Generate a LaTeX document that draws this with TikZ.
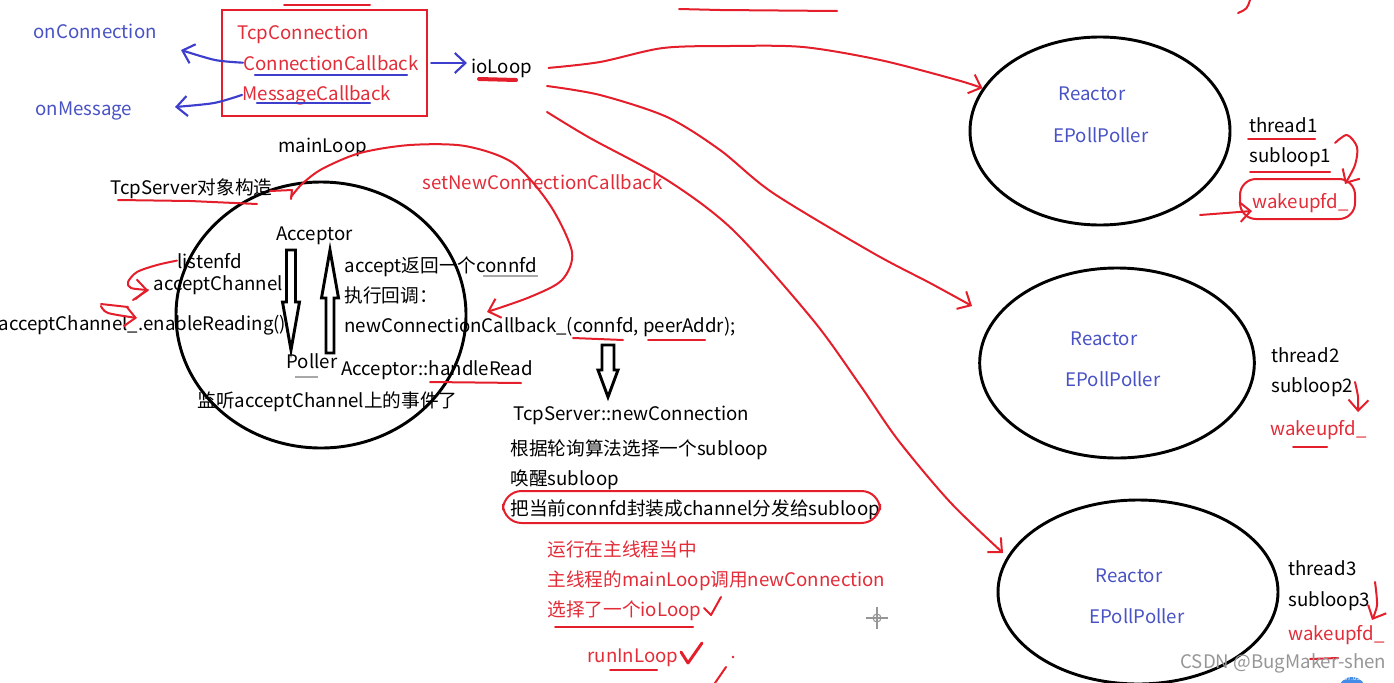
\documentclass[tikz,border=0pt]{standalone}
\usepackage{fontspec}
\setmainfont{Noto Sans CJK SC}
\usetikzlibrary{arrows.meta,shapes.geometric}

\definecolor{penred}{RGB}{228,30,42}
\definecolor{txtred}{RGB}{226,44,56}
\definecolor{txtblue}{RGB}{72,82,196}
\definecolor{penblue}{RGB}{62,62,204}
\definecolor{ulgray}{RGB}{168,168,168}
\definecolor{markgray}{RGB}{150,150,150}
\definecolor{clockblue}{RGB}{66,140,232}

\tikzset{every picture/.style={line width=0.75pt}}
\tikzset{
  txt/.style={anchor=base west, inner sep=0pt, font=\fontsize{14}{17}\selectfont},
  redtxt/.style={txt, text=txtred},
  bluetxt/.style={txt, text=txtblue},
  redpen/.style={draw=penred, line width=1.5pt, line cap=round, line join=round},
  bluepen/.style={draw=penblue, line width=1.6pt, line cap=round, line join=round},
  barb/.style={-{Straight Barb[length=8pt,width=15pt]}},
  reactor/.style={draw, ellipse, line width=2.2pt, inner sep=0pt},
  blockarrow/.style={draw, line width=2.2pt, line join=miter, fill=white},
}

\begin{document}
\begin{tikzpicture}[x=0.75pt,y=0.75pt,yscale=-1,xscale=1]
\useasboundingbox (0,0) rectangle (1394,682);

%Shape: TcpConnection box
\node [draw=penred, line width=2.2pt, minimum width=153.75pt, minimum height=79.5pt, inner sep=0pt] (tcpbox) at (324.5,63) {};

% Text Node
\draw (33,38) node [bluetxt] (onconn) {onConnection};
% Text Node
\draw (35,115) node [bluetxt] (onmsg) {onMessage};
% Text Node
\draw (237,39) node [redtxt] (tcpconn) {TcpConnection};
% Text Node
\draw (243,70) node [redtxt] (conncb) {ConnectionCallback};
% Text Node
\draw (242,100) node [redtxt] (msgcb) {MessageCallback};
% Text Node
\draw (471,73) node [txt] (ioloop) {ioLoop};

%Blue pen strokes
\draw [bluepen] (255,75) -- (407,75) ;
\draw [bluepen] (257,103) -- (370,103) ;
\coordinate (onconntip) at (181,50);
\coordinate (onmsgtip) at (175,107);
\draw [bluepen,barb] (conncb.west) plot [smooth] coordinates {(conncb.west) (215,60) (onconntip)} ;
\draw [bluepen,barb] (msgcb.west) plot [smooth] coordinates {(msgcb.west) (214,103) (onmsgtip)} ;
\draw [bluepen,barb,shorten >=3pt] ([xshift=2pt]tcpbox.east) -- (tcpbox.east -| ioloop.west) ;

%Red pen strokes on top
\draw [redpen] (284,5) -- (370,5) ;
\draw [redpen] (679,9) -- (720,10) -- (837,11) ;
\draw [redpen] (1238,13) .. controls (1247,9) .. (1250,0) ;
\draw [redpen, line width=3pt] (479,79) -- (516,80) ;

%Shape: Reactor ellipses
\node [reactor, minimum width=195pt, minimum height=141pt] (r1) at (1100,131) {};
\node [reactor, minimum width=206pt, minimum height=142.5pt] (r2) at (1117,363) {};
\node [reactor, minimum width=210pt, minimum height=138pt] (r3) at (1138,592) {};

%Red arrows from ioLoop to the reactors
\coordinate (r2tip) at (972,306);
\coordinate (r3tip) at (1003,553);
\draw [redpen,barb] plot [smooth] coordinates {([xshift=12pt]ioloop.east) (600,62) (663,48) (730,46) (803,47) (880,60) (957,80) (r1.160)} ;
\draw [redpen,barb] plot [smooth] coordinates {(547,86) (600,95) (667,117) (720,150) (773,193) (873,253) (930,283) (r2tip)} ;
\draw [redpen,barb] plot [smooth] coordinates {(547,112) (590,138) (667,180) (733,230) (813,320) (860,385) (898,440) (950,502) (r3tip)} ;

% Text Node
\draw (1058,100) node [bluetxt] (reac1) {Reactor};
\draw (1053,142) node [bluetxt] (poll1) {EPollPoller};
\draw (1249,132) node [txt] (thr1) {thread1};
\draw (1249,162) node [txt] (sub1) {subloop1};
\draw (1252,208) node [redtxt] (wake1) {wakeupfd\_};
% Text Node
\draw (1070,345) node [bluetxt] (reac2) {Reactor};
\draw (1065,386) node [bluetxt] (poll2) {EPollPoller};
\draw (1271,362) node [txt] (thr2) {thread2};
\draw (1271,392) node [txt] (sub2) {subloop2};
\draw (1270,435) node [redtxt] (wake2) {wakeupfd\_};
% Text Node
\draw (1095,582) node [bluetxt] (reac3) {Reactor};
\draw (1089,623) node [bluetxt] (poll3) {EPollPoller};
\draw (1288,575) node [txt] (thr3) {thread3};
\draw (1288,606) node [txt] (sub3) {subloop3};
\draw (1288,640) node [redtxt] (wake3) {wakeupfd\_};

%Red marks at the subloops
\draw [redpen] (1248,139) -- (1315,139) ;
\draw [redpen] (1250,172) -- (1330,172) ;
\draw [redpen, rounded corners=12pt] (1240,179) rectangle (1355,219) ;
\draw [redpen,barb] plot [smooth] coordinates {(1335,143) (1347,135) (1357,147) (1355,165) (1345,184)} ;
\draw [redpen,barb] (1200,215) -- (wake1.west |- 1200,211) ;
\draw [redpen,barb] plot [smooth] coordinates {(1355,382) (1358,397) (1358,412)} ;
\draw [redpen] (1293,447) -- (1327,447) ;
\draw [redpen,barb] plot [smooth] coordinates {(1375,582) (1377,605) (1372,620)} ;
\draw [redpen] (1310,659) -- (1338,658) ;

%Shape: Acceptor circle
\node [reactor, minimum width=217.5pt, minimum height=199.5pt] (acc) at (321,315) {};

% Text Node
\draw (278,152) node [txt] (mainloop) {mainLoop};
\draw (110,194) node [txt] (srv) {TcpServer对象构造};
\draw (422,189) node [redtxt] (setcb) {setNewConnectionCallback};
\draw (276,240) node [txt] (acceptor) {Acceptor};
\draw (177,268) node [txt] (listenfd) {listenfd};
\draw (153,290) node [txt] (achan) {acceptChannel};
\draw (-2,330) node [txt] (enable) {acceptChannel\_.enableReading();};
\draw (286,368) node [txt] (poller) {Poller};
\draw (344,272) node [txt] (ret) {accept返回一个connfd};
\draw (344,302) node [txt] (exec) {执行回调：};
\draw (344,332) node [txt] (newcb) {newConnectionCallback\_(connfd, peerAddr);};
\draw (341,375) node [txt] (hread) {Acceptor::handleRead};
\draw (197,407) node [txt] (listen) {监听acceptChannel上的事件了};

%Shape: hollow arrows
\draw [blockarrow] (286.5,250) -- (295.5,250) -- (295.5,302) -- (299.5,302) -- (291,350) -- (282.5,302) -- (286.5,302) -- cycle ;
\draw [blockarrow] (326,353) -- (334,353) -- (334,298) -- (338.5,298) -- (330,250) -- (321.5,298) -- (326,298) -- cycle ;
\draw [blockarrow] (602,345) -- (614,345) -- (614,370) -- (618,370) -- (608,397) -- (598,370) -- (602,370) -- cycle ;

%Underlines round the Acceptor
\draw [redpen] (118,200) -- (190,201) -- (257,204) ;
\draw [draw=ulgray, line width=1.2pt] (483,276) -- (538,276) ;
\draw [draw=ulgray, line width=1.2pt] (295,377) -- (318,377) ;
\draw [redpen] (573,338) -- (623,340) ;
\draw [redpen] (648,340) -- (705,340) ;
\draw [redpen] (430,382) -- (521,383) ;

%Red pen strokes round the Acceptor
\draw [redpen] (270,191) -- (292,190) -- (291,199) ;
\draw [redpen,barb] plot [smooth] coordinates {(291,197) (302,184) (322,169) (360,153) (410,145) (465,146) (513,163) (550,205) (572,252) (562,280) (530,297) (487,312)} ;
\draw [redpen,barb] plot [smooth] coordinates {(listenfd.west) (157,265) (137,272) (128,282) (131,288) (148,290)} ;
\draw [redpen] (148,290) -- (133,300) ;
\draw [redpen] (101,304) -- (128,307) ;
\draw [redpen,barb] plot [smooth] coordinates {(101,306) (108,313) (137,318)} ;

% Text Node
\draw (513,420) node [txt] (tcpnew) {TcpServer::newConnection};
\draw (510,455) node [txt] (rr) {根据轮询算法选择一个subloop};
\draw (510,485) node [txt] (wakeup) {唤醒subloop};
\draw (510,515) node [txt] (dispatch) {把当前connfd封装成channel分发给subloop};
\draw [redpen, rounded corners=14pt] (503,491) rectangle (880,523) ;

% Text Node
\draw (547,556) node [redtxt] (mainthr) {运行在主线程当中};
\draw (547,586) node [redtxt] (callnew) {主线程的mainLoop调用newConnection};
\draw (547,616) node [redtxt] (pick) {选择了一个ioLoop};
\draw (587,662) node [redtxt] (runin) {runInLoop};

%Check marks
\draw [redpen] (555,627) -- (693,627) ;
\draw [redpen] (704,608) -- (711,615) -- (721,597) ;
\draw [redpen] (610,670) -- (657,670) ;
\draw [redpen, line width=2.2pt] (681,652) -- (688,663) -- (702,643) ;
\draw [redpen] (715,683) -- (726,667) ;
\fill [penred] (733,657) circle [radius=1.3] ;

%Cursor
\draw [draw=markgray, line width=0.8pt] (877,618) circle [radius=4] ;
\draw [draw=markgray, line width=0.8pt] (866,618) -- (888,618) (877,607) -- (877,629) ;

% Watermark
\draw (1180,668) node [txt, text=markgray] (wm) {CSDN @BugMaker-shen};
\fill [clockblue] (1352,691) circle [radius=14] ;
\draw (1352,678) node [inner sep=0pt, text=white, font=\fontsize{5}{6}\selectfont] (clock) {37:05};

\end{tikzpicture}
\end{document}
